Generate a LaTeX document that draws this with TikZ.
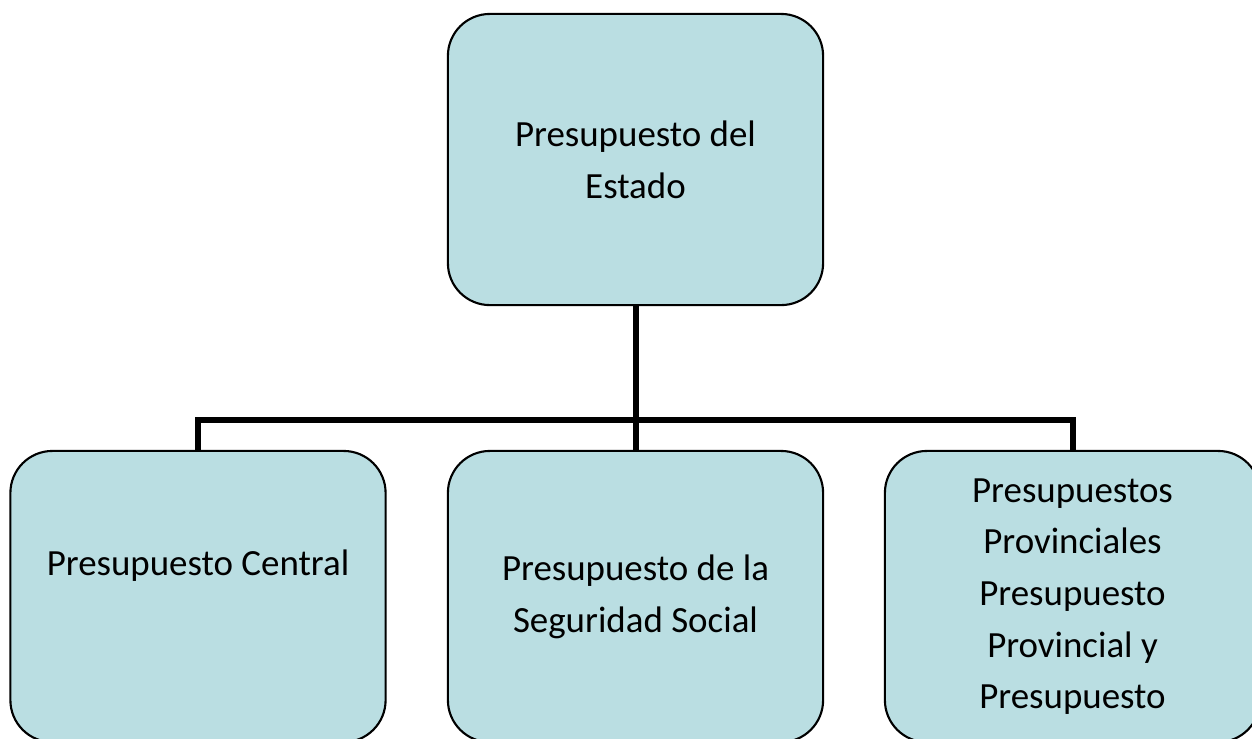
\documentclass[tikz,border=0pt]{standalone}
\usepackage{fontspec}
\setmainfont{Carlito}
\usepackage{tikz}
\usetikzlibrary{positioning}
\definecolor{boxblue}{RGB}{186,222,226}

\begin{document}
\begin{tikzpicture}[x=0.01cm, y=-0.01cm,
    budget/.style={draw, line width=0.6pt, fill=boxblue, rounded corners=0.42cm,
      minimum width=3.75cm, minimum height=2.91cm, align=center,
      font=\fontsize{10.5}{14.7}\selectfont},
    branch/.style={line width=1.7pt}]
    \useasboundingbox (0,0) rectangle (1252,738);

    \node [budget] (estado) at (635.5,159.5) {Presupuesto del\\Estado};
    \node [budget] (central) at (198,596.5) {Presupuesto Central\\\strut};
    \node [budget] (seguridad) at (635.5,596.5) {Presupuesto de la\\Seguridad Social};
    \node [budget] (provincial) at (1072.5,596.5) {Presupuestos\\Provinciales\\Presupuesto\\Provincial y\\Presupuesto};

    \coordinate (bus) at (635.5,420);
    \draw [branch] (estado) -- (seguridad);
    \draw [branch] (central.north) |- (bus) -| (provincial.north);
  \end{tikzpicture}
\end{document}
